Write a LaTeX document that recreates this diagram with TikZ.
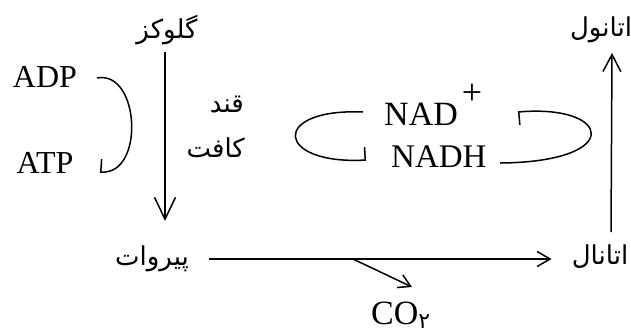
\documentclass[tikz,border=0pt]{standalone}
\usepackage{fontspec}
\setmainfont{Liberation Serif}
\newfontfamily\arabicfont[Script=Arabic]{DejaVu Sans}
\TeXXeTstate=1
\usetikzlibrary{arrows.meta}
\newcommand{\farsi}{\arabicfont\fontsize{26}{30}\selectfont}
\begin{document}
\begin{tikzpicture}[x=1pt,y=-1pt,
  lbl/.style={inner sep=0pt, font=\fontsize{32}{36}\selectfont},
  fa/.style={inner sep=0pt, font=\farsi},
  conn/.style={line width=1.5pt},
  halfbar/.style={line width=1.5pt, -{Bar[harpoon,width=26pt,line width=1.5pt]}},
  halfbarsw/.style={line width=1.5pt, -{Bar[harpoon,swap,width=26pt,line width=1.5pt]}}
]
\useasboundingbox (0,0) rectangle (631,335);

% texts
\node[fa] (glu) at (167,30) {\beginR گلوکز\endR};
\node[fa, anchor=east] (qand) at (244,104) {\beginR قند\endR};
\node[fa, anchor=east] (kafat) at (245,148) {\beginR کافت\endR};
\node[fa] (pyr) at (152,259) {\beginR پیروات\endR};
\node[fa] (etl) at (600,257) {\beginR اتانال\endR};
\node[fa] (eth) at (601,30) {\beginR اتانول\endR};

\node[lbl, anchor=base] (adp) at (45,87) {ADP};
\node[lbl, anchor=base] (atp) at (45,173) {ATP};
\node[lbl, anchor=base west, font=\fontsize{34}{38}\selectfont] (nad) at (384,125) {NAD\hspace{4pt}\raisebox{21pt}{\fontsize{36}{38}\selectfont +}};
\node[lbl, anchor=base west, font=\fontsize{33}{36}\selectfont] (nadh) at (391,167) {NADH};
\node[inner sep=0pt, anchor=base west, font=\fontsize{34}{38}\selectfont] (co2) at (371,324) {CO\raisebox{-4pt}{\arabicfont\fontsize{22}{24}\selectfont ۲}};

% main arrows
\draw[conn, -{Straight Barb[length=22pt,width=21pt,line width=1.5pt]}]
  ([xshift=-2pt]glu.south |- 0,52) -- ([xshift=-2pt]glu.south |- 0,221);
\coordinate (branch) at (353,259);
\draw[conn, -{Straight Barb[length=13pt,width=15pt,line width=1.5pt]}]
  ([xshift=20pt]pyr.east |- branch) -- ([xshift=-20pt]etl.west |- branch);
\draw[conn, -{Straight Barb[length=12pt,width=14pt,line width=1.5pt]}]
  (branch) -- (412,287);
\draw[conn, -{Straight Barb[length=17pt,width=18pt,line width=1.5pt]}]
  ([xshift=11pt]etl.north |- 0,232) -- ([xshift=11pt]eth.south |- 0,53);

% cycles
\draw[halfbarsw] (97,78) .. controls (140,70) and (145,175) .. (100,172);
\draw[halfbar] (363,112) .. controls (270,108) and (275,165) .. (366,160);
\draw[halfbar] (500,163) .. controls (625,162) and (612,104) .. (518,112);
\end{tikzpicture}
\end{document}
